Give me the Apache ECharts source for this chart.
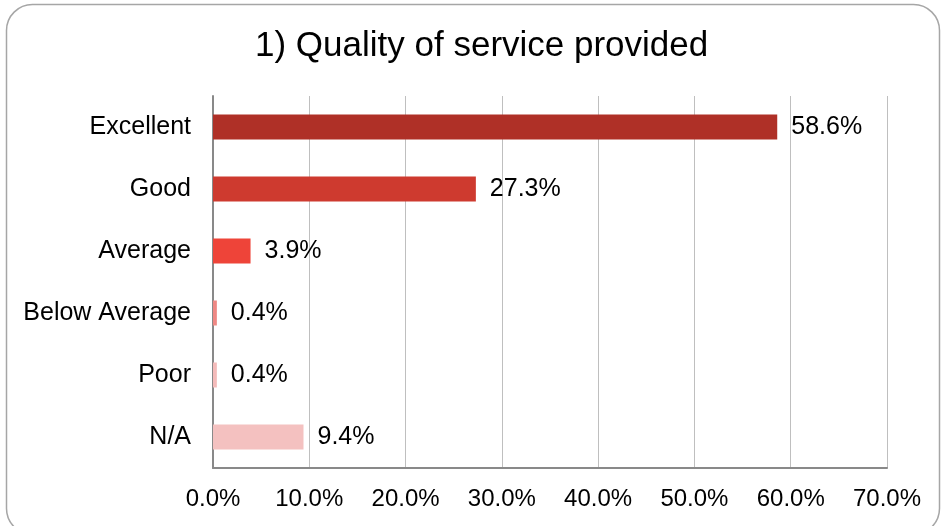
<!DOCTYPE html>
<html>
<head>
<meta charset="utf-8">
<script src="https://cdn.jsdelivr.net/npm/echarts@6/dist/echarts.min.js"></script>
<style>
html,body{margin:0;padding:0;background:#fff;}
#chart{width:943px;height:526px;}
</style>
</head>
<body>
<div id="chart"></div>
<script>
var categories = ['Excellent', 'Good', 'Average', 'Below Average', 'Poor', 'N/A'];
var values = [58.6, 27.3, 3.9, 0.4, 0.4, 9.4];
var barColors = ['#AF3027', '#CE3A2F', '#EE4439', '#EF8884', '#F4BBBA', '#F4C1C0'];
var xTicks = [0, 10, 20, 30, 40, 50, 60, 70];

var chart = echarts.init(document.getElementById('chart'));
var font = '"Liberation Sans", Arial, sans-serif';
chart.setOption({
  animation: false,
  backgroundColor: '#fff',
  graphic: [{
    type: 'rect',
    shape: {x: 6.5, y: 4.5, width: 933, height: 530, r: 26},
    style: {fill: 'none', stroke: '#A6A6A6', lineWidth: 1.5},
    z: -1
  }],
  title: {
    text: '1) Quality of service provided',
    left: 250,
    top: 24,
    textStyle: {fontFamily: font, fontSize: 35, fontWeight: 'normal', color: '#000'}
  },
  grid: {left: 213, right: 56, top: 96, bottom: 58},
  xAxis: {
    type: 'value',
    min: xTicks[0],
    max: xTicks[xTicks.length - 1],
    interval: 10,
    axisLine: {show: true, lineStyle: {color: '#898989', width: 2}},
    axisTick: {show: false},
    splitLine: {show: true, lineStyle: {color: '#BFBFBF', width: 1}},
    axisLabel: {
      margin: 19,
      fontFamily: font, fontSize: 24, color: '#000',
      formatter: function (v) { return v.toFixed(1) + '%'; }
    }
  },
  yAxis: {
    type: 'category',
    data: categories,
    inverse: true,
    axisLine: {show: true, lineStyle: {color: '#898989', width: 2}},
    axisTick: {show: false},
    axisLabel: {margin: 22, fontFamily: font, fontSize: 25, color: '#000'}
  },
  series: [{
    type: 'bar',
    barWidth: 25,
    data: values.map(function (v, i) {
      return {value: v, itemStyle: {color: barColors[i]}};
    }),
    label: {
      show: true,
      position: 'right',
      distance: 14,
      fontFamily: font, fontSize: 25, color: '#000',
      formatter: function (p) { return p.value.toFixed(1) + '%'; }
    }
  }]
});
</script>
</body>
</html>
